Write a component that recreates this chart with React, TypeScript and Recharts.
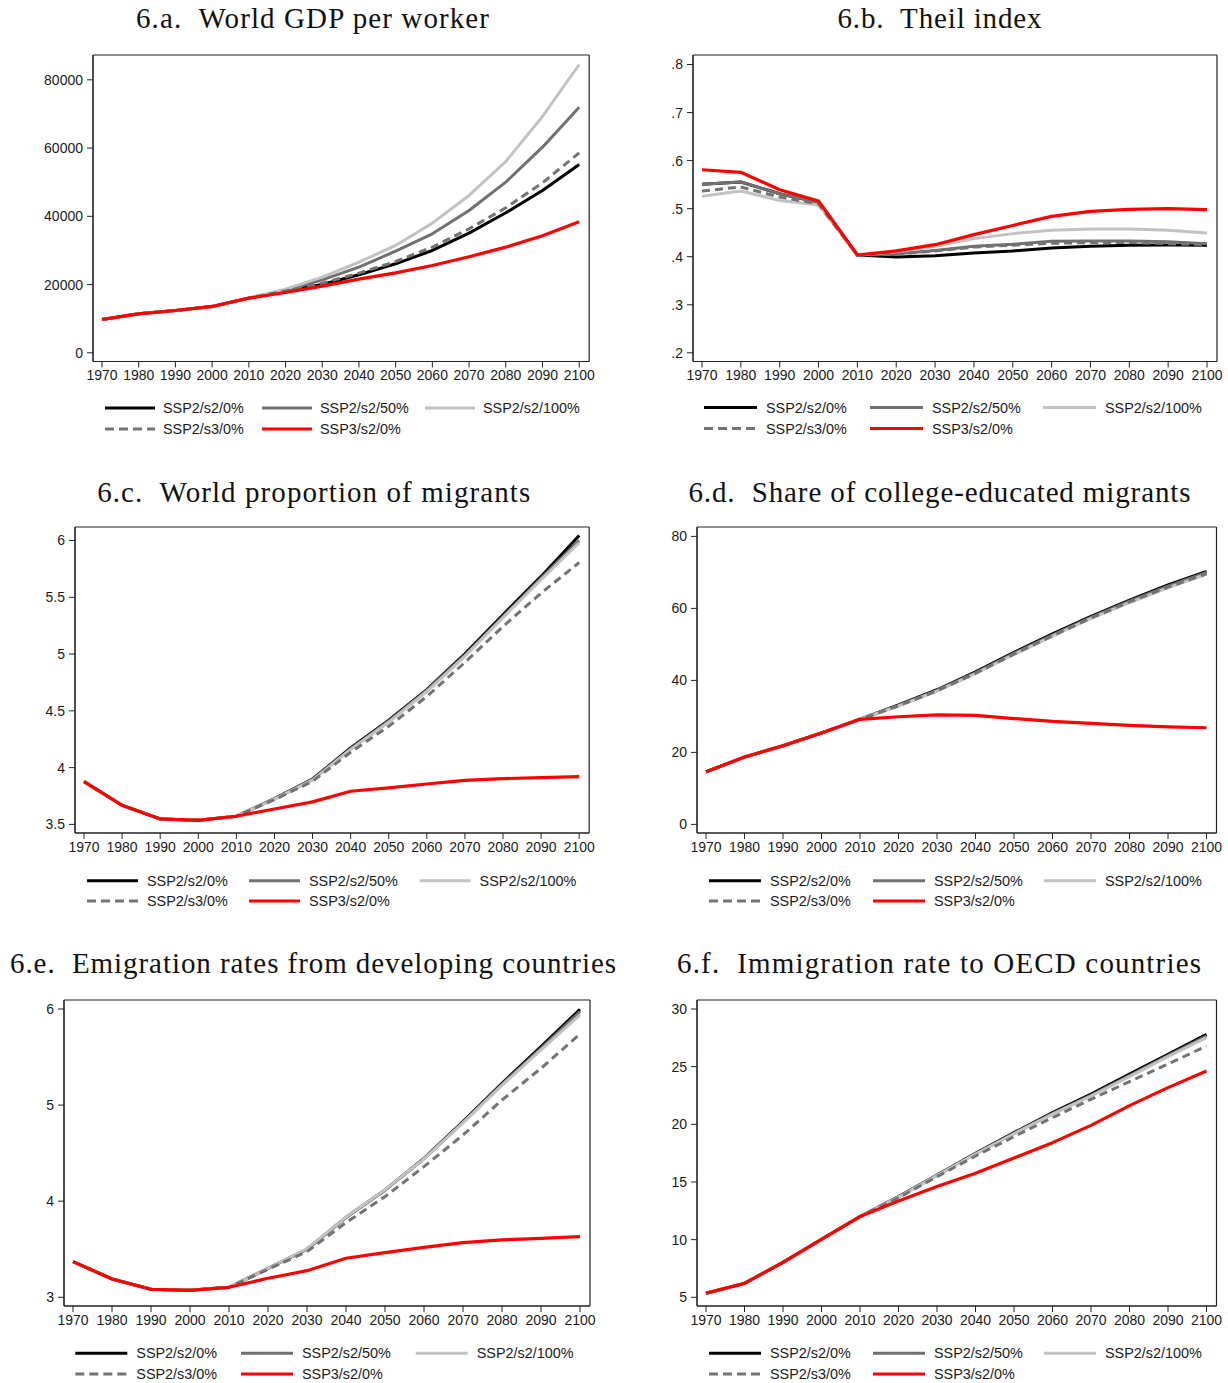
import React from 'react';
import { LineChart, Line, XAxis, YAxis, CartesianGrid } from 'recharts';

// ---------- shared categories ----------
const YEARS = [1970, 1980, 1990, 2000, 2010, 2020, 2030, 2040, 2050, 2060, 2070, 2080, 2090, 2100];
const SERIES_NAMES = ['SSP2/s2/0%', 'SSP2/s2/50%', 'SSP2/s2/100%', 'SSP2/s3/0%', 'SSP3/s2/0%'];

// ---------- 6.a World GDP per worker ----------
const gdpS2p0 = [9770, 11430, 12400, 13580, 16020, 18100, 20000, 22860, 26080, 29990, 35070, 41030, 47570, 55190];
const gdpS2p50 = [9770, 11430, 12400, 13580, 16020, 18300, 21390, 25100, 29790, 34870, 41710, 50010, 60270, 71990];
const gdpS2p100 = [9770, 11430, 12400, 13580, 16020, 18650, 22170, 26570, 31450, 38000, 46110, 56070, 69250, 84490];
const gdpS3p0 = [9770, 11430, 12400, 13580, 16020, 18150, 20410, 23340, 26760, 30960, 36340, 42490, 49820, 58610];
const gdpSSP3 = [9770, 11430, 12400, 13580, 16020, 17680, 19540, 21590, 23440, 25590, 28130, 30960, 34290, 38390];
const gdpTicks = [0, 20000, 40000, 60000, 80000];

// ---------- 6.b Theil index ----------
const theilS2p0 = [0.551, 0.5555, 0.531, 0.513, 0.4035, 0.3994, 0.402, 0.4078, 0.412, 0.418, 0.4216, 0.424, 0.4244, 0.4237];
const theilS2p50 = [0.551, 0.5555, 0.531, 0.513, 0.4035, 0.406, 0.413, 0.4216, 0.4258, 0.432, 0.4327, 0.4327, 0.431, 0.427];
const theilS2p100 = [0.5257, 0.5368, 0.517, 0.5076, 0.4035, 0.41, 0.4216, 0.4376, 0.448, 0.455, 0.4577, 0.4577, 0.455, 0.4494];
const theilS3p0 = [0.5368, 0.545, 0.524, 0.51, 0.4035, 0.405, 0.412, 0.42, 0.424, 0.428, 0.4293, 0.4293, 0.427, 0.425];
const theilSSP3 = [0.581, 0.5756, 0.5395, 0.516, 0.4035, 0.412, 0.425, 0.446, 0.465, 0.484, 0.4945, 0.4986, 0.5, 0.498];
const theilTicks = [0.2, 0.3, 0.4, 0.5, 0.6, 0.7, 0.8];

// ---------- 6.c World proportion of migrants ----------
const migS2p0 = [3.877, 3.668, 3.548, 3.536, 3.572, 3.727, 3.9, 4.173, 4.417, 4.687, 5.003, 5.346, 5.684, 6.045];
const migS2p50 = [3.877, 3.668, 3.548, 3.536, 3.572, 3.725, 3.895, 4.165, 4.41, 4.68, 4.99, 5.33, 5.67, 6.0];
const migS2p100 = [3.877, 3.668, 3.548, 3.536, 3.572, 3.722, 3.89, 4.16, 4.4, 4.67, 4.98, 5.32, 5.655, 5.98];
const migS3p0 = [3.877, 3.668, 3.548, 3.536, 3.572, 3.718, 3.88, 4.135, 4.364, 4.627, 4.927, 5.243, 5.537, 5.806];
const migSSP3 = [3.877, 3.668, 3.548, 3.536, 3.572, 3.636, 3.698, 3.792, 3.821, 3.856, 3.888, 3.903, 3.912, 3.921];
const migTicks = [3.5, 4, 4.5, 5, 5.5, 6];

// ---------- 6.d Share of college-educated migrants ----------
const colS2p0 = [14.6, 18.7, 21.85, 25.4, 29.2, 33.2, 37.4, 42.4, 47.8, 52.9, 57.8, 62.3, 66.5, 70.3];
const colS2p50 = [14.6, 18.7, 21.85, 25.4, 29.2, 33.0, 37.2, 42.1, 47.5, 52.6, 57.5, 62.0, 66.2, 70.0];
const colS2p100 = [14.6, 18.7, 21.85, 25.4, 29.2, 32.9, 37.0, 41.9, 47.2, 52.3, 57.2, 61.6, 65.7, 69.5];
const colS3p0 = [14.6, 18.7, 21.85, 25.4, 29.2, 32.95, 37.1, 42.0, 47.3, 52.4, 57.3, 61.8, 65.9, 69.6];
const colSSP3 = [14.6, 18.7, 21.85, 25.4, 29.2, 29.9, 30.4, 30.3, 29.4, 28.6, 28.05, 27.5, 27.1, 26.85];
const colTicks = [0, 20, 40, 60, 80];

// ---------- 6.e Emigration rates from developing countries ----------
const emiS2p0 = [3.371, 3.191, 3.083, 3.073, 3.104, 3.3, 3.5, 3.832, 4.117, 4.446, 4.828, 5.227, 5.608, 5.997];
const emiS2p50 = [3.371, 3.191, 3.083, 3.073, 3.104, 3.3, 3.5, 3.83, 4.115, 4.44, 4.82, 5.215, 5.59, 5.973];
const emiS2p100 = [3.371, 3.191, 3.083, 3.073, 3.104, 3.3, 3.505, 3.835, 4.12, 4.44, 4.815, 5.205, 5.574, 5.938];
const emiS3p0 = [3.371, 3.191, 3.083, 3.073, 3.104, 3.291, 3.475, 3.777, 4.047, 4.36, 4.689, 5.053, 5.383, 5.74];
const emiSSP3 = [3.371, 3.191, 3.083, 3.073, 3.104, 3.198, 3.277, 3.406, 3.465, 3.52, 3.569, 3.597, 3.614, 3.631];
const emiTicks = [3, 4, 5, 6];

// ---------- 6.f Immigration rate to OECD countries ----------
const immS2p0 = [5.35, 6.21, 8.03, 10.03, 12.0, 13.73, 15.6, 17.49, 19.28, 21.01, 22.63, 24.36, 26.07, 27.8];
const immS2p50 = [5.35, 6.21, 8.03, 10.03, 12.0, 13.72, 15.58, 17.45, 19.22, 20.93, 22.52, 24.22, 25.95, 27.66];
const immS2p100 = [5.35, 6.21, 8.03, 10.03, 12.0, 13.7, 15.55, 17.42, 19.18, 20.88, 22.45, 24.13, 25.87, 27.51];
const immS3p0 = [5.35, 6.21, 8.03, 10.03, 12.0, 13.64, 15.46, 17.25, 18.93, 20.58, 22.17, 23.7, 25.23, 26.79];
const immSSP3 = [5.35, 6.21, 8.03, 10.03, 12.0, 13.35, 14.6, 15.75, 17.08, 18.41, 19.91, 21.62, 23.18, 24.62];
const immTicks = [5, 10, 15, 20, 25, 30];

// ---------- styles ----------
const SERIES_STYLE = [
  { key: 's2p0', color: '#000000', width: 3, dash: undefined },
  { key: 's2p50', color: '#707070', width: 3, dash: undefined },
  { key: 's2p100', color: '#c2c2c2', width: 3, dash: undefined },
  { key: 's3p0', color: '#737373', width: 3, dash: '8 5' },
  { key: 'ssp3', color: '#ff0000', width: 3.2, dash: undefined },
];

function buildRows(arrs: number[][]) {
  return YEARS.map((year, i) => {
    const row: any = { year };
    SERIES_STYLE.forEach((s, k) => {
      row[s.key] = arrs[k][i];
    });
    return row;
  });
}

const plainFmt = (v: number) => String(v);
const stataFmt = (v: number) => v.toFixed(1).replace(/^0/, '');

// Axis top: 'dataMax' when the highest line passes the top tick, otherwise the top tick.
const PANELS = [
  {
    id: 'a', title: '6.a.  World GDP per worker', titleX: 312.5, titleY: 28.3, titleW: 353,
    data: buildRows([gdpS2p0, gdpS2p50, gdpS2p100, gdpS3p0, gdpSSP3]), ticks: gdpTicks, fmt: plainFmt, top: 'dataMax',
    plotL: 93.3, plotR: 589.5, plotT: 54.5, plotB: 361, padTop: 9.5, padBottom: 8.7,
    legCols: [105, 262, 425], legW: 50, legGap: 58, legRows: [408, 429],
  },
  {
    id: 'b', title: '6.b.  Theil index', titleX: 939.5, titleY: 28.3, titleW: 204,
    data: buildRows([theilS2p0, theilS2p50, theilS2p100, theilS3p0, theilSSP3]), ticks: theilTicks, fmt: stataFmt, top: 'tick',
    plotL: 693, plotR: 1217, plotT: 54.5, plotB: 361, padTop: 9.5, padBottom: 8.7,
    legCols: [704, 870, 1043], legW: 53, legGap: 62, legRows: [407.5, 428.5],
  },
  {
    id: 'c', title: '6.c.  World proportion of migrants', titleX: 313.7, titleY: 501.7, titleW: 433,
    data: buildRows([migS2p0, migS2p50, migS2p100, migS3p0, migSSP3]), ticks: migTicks, fmt: plainFmt, top: 'dataMax',
    plotL: 75.3, plotR: 589.5, plotT: 527.3, plotB: 833.3, padTop: 8.4, padBottom: 8.6,
    legCols: [87, 249, 419.6], legW: 51, legGap: 60, legRows: [880.7, 901],
  },
  {
    id: 'd', title: '6.d.  Share of college-educated migrants', titleX: 939.5, titleY: 501.7, titleW: 502,
    data: buildRows([colS2p0, colS2p50, colS2p100, colS3p0, colSSP3]), ticks: colTicks, fmt: plainFmt, top: 'tick',
    plotL: 697, plotR: 1216.5, plotT: 527.3, plotB: 833.3, padTop: 9.4, padBottom: 8.6,
    legCols: [709, 873, 1044], legW: 52, legGap: 61, legRows: [880.7, 901],
  },
  {
    id: 'e', title: '6.e.  Emigration rates from developing countries', titleX: 313, titleY: 973.3, titleW: 606,
    data: buildRows([emiS2p0, emiS2p50, emiS2p100, emiS3p0, emiSSP3]), ticks: emiTicks, fmt: plainFmt, top: 'tick',
    plotL: 63.5, plotR: 589.5, plotT: 1000, plotB: 1306, padTop: 9, padBottom: 8.7,
    legCols: [75.3, 241, 415.7], legW: 52, legGap: 61, legRows: [1353.3, 1374],
  },
  {
    id: 'f', title: '6.f.  Immigration rate to OECD countries', titleX: 939, titleY: 973.3, titleW: 524,
    data: buildRows([immS2p0, immS2p50, immS2p100, immS3p0, immSSP3]), ticks: immTicks, fmt: plainFmt, top: 'tick',
    plotL: 697, plotR: 1216.5, plotT: 1000, plotB: 1306, padTop: 9, padBottom: 8.7,
    legCols: [709, 873, 1044], legW: 52, legGap: 61, legRows: [1353.3, 1374],
  },
];

const AXIS_COLOR = '#222222';
const TICK_STYLE = { fill: '#1a1a1a', fontSize: 14, fontFamily: '"Liberation Sans", Arial, sans-serif' };

// frame: one line at each edge of the plot area
const frameH = ({ offset }: any) => [offset.top, offset.top + offset.height];
const frameV = ({ offset }: any) => [offset.left, offset.left + offset.width];

function Panel({ p }: { p: any }) {
  const yW = 60;
  const mT = 10;
  const mR = 10;
  const xH = 30;
  const left = p.plotL - yW;
  const top = p.plotT - mT;
  const width = p.plotR + mR - left;
  const height = p.plotB + xH - top;
  const lo = p.ticks[0];
  const hi = p.top === 'dataMax' ? 'dataMax' : p.ticks[p.ticks.length - 1];
  return (
    <div style={{ position: 'absolute', left, top, width, height }}>
      <LineChart width={width} height={height} data={p.data} margin={{ top: mT, right: mR, bottom: 0, left: 0 }}>
        <CartesianGrid
          stroke={AXIS_COLOR} strokeWidth={1.2} strokeDasharray="0"
          horizontalCoordinatesGenerator={frameH} verticalCoordinatesGenerator={frameV}
        />
        <XAxis
          dataKey="year" type="number" domain={[1970, 2100]} ticks={YEARS} interval={0}
          padding={{ left: 9, right: 10 }} height={xH} tickSize={6} tickMargin={3}
          stroke={AXIS_COLOR} tick={TICK_STYLE} allowDecimals={false}
        />
        <YAxis
          type="number" domain={[lo, hi]} ticks={p.ticks} interval={0}
          padding={{ top: p.padTop, bottom: p.padBottom }} width={yW} tickSize={6} tickMargin={4}
          tickFormatter={p.fmt} stroke={AXIS_COLOR} tick={TICK_STYLE}
        />
        {SERIES_STYLE.map((s, k) => (
          <Line
            key={s.key} dataKey={s.key} name={SERIES_NAMES[k]} type="linear"
            stroke={s.color} strokeWidth={s.width} strokeDasharray={s.dash}
            dot={false} activeDot={false} isAnimationActive={false}
            strokeLinejoin="round" strokeLinecap="butt"
          />
        ))}
      </LineChart>
    </div>
  );
}

function Overlay() {
  const order = [
    [0, 0, 0], [1, 0, 1], [2, 0, 2],
    [3, 1, 0], [4, 1, 1],
  ];
  return (
    <svg width={1228} height={1383} style={{ position: 'absolute', left: 0, top: 0, pointerEvents: 'none' }}>
      {PANELS.map((p) => (
        <g key={p.id}>
          <text
            x={p.titleX} y={p.titleY} textAnchor="middle" textLength={p.titleW} lengthAdjust="spacing"
            fontFamily='"Liberation Serif", "Times New Roman", serif' fontSize={29} fill="#111"
            style={{ whiteSpace: 'pre' }}
          >
            {p.title}
          </text>
          {order.map(([si, row, col]) => {
            const s = SERIES_STYLE[si];
            const x0 = p.legCols[col];
            const y = p.legRows[row];
            return (
              <g key={si}>
                <line x1={x0} x2={x0 + p.legW} y1={y} y2={y} stroke={s.color} strokeWidth={3} strokeDasharray={s.dash ? '9 5' : undefined} />
                <text x={x0 + p.legGap} y={y} dominantBaseline="central" fontSize={14.4}
                  fontFamily='"Liberation Sans", Arial, sans-serif' fill="#1a1a1a">
                  {SERIES_NAMES[si]}
                </text>
              </g>
            );
          })}
        </g>
      ))}
    </svg>
  );
}

export default function App() {
  return (
    <div style={{ position: 'absolute', left: 0, top: 0, width: 1228, height: 1383, background: '#ffffff' }}>
      {PANELS.map((p) => (
        <Panel key={p.id} p={p} />
      ))}
      <Overlay />
    </div>
  );
}
